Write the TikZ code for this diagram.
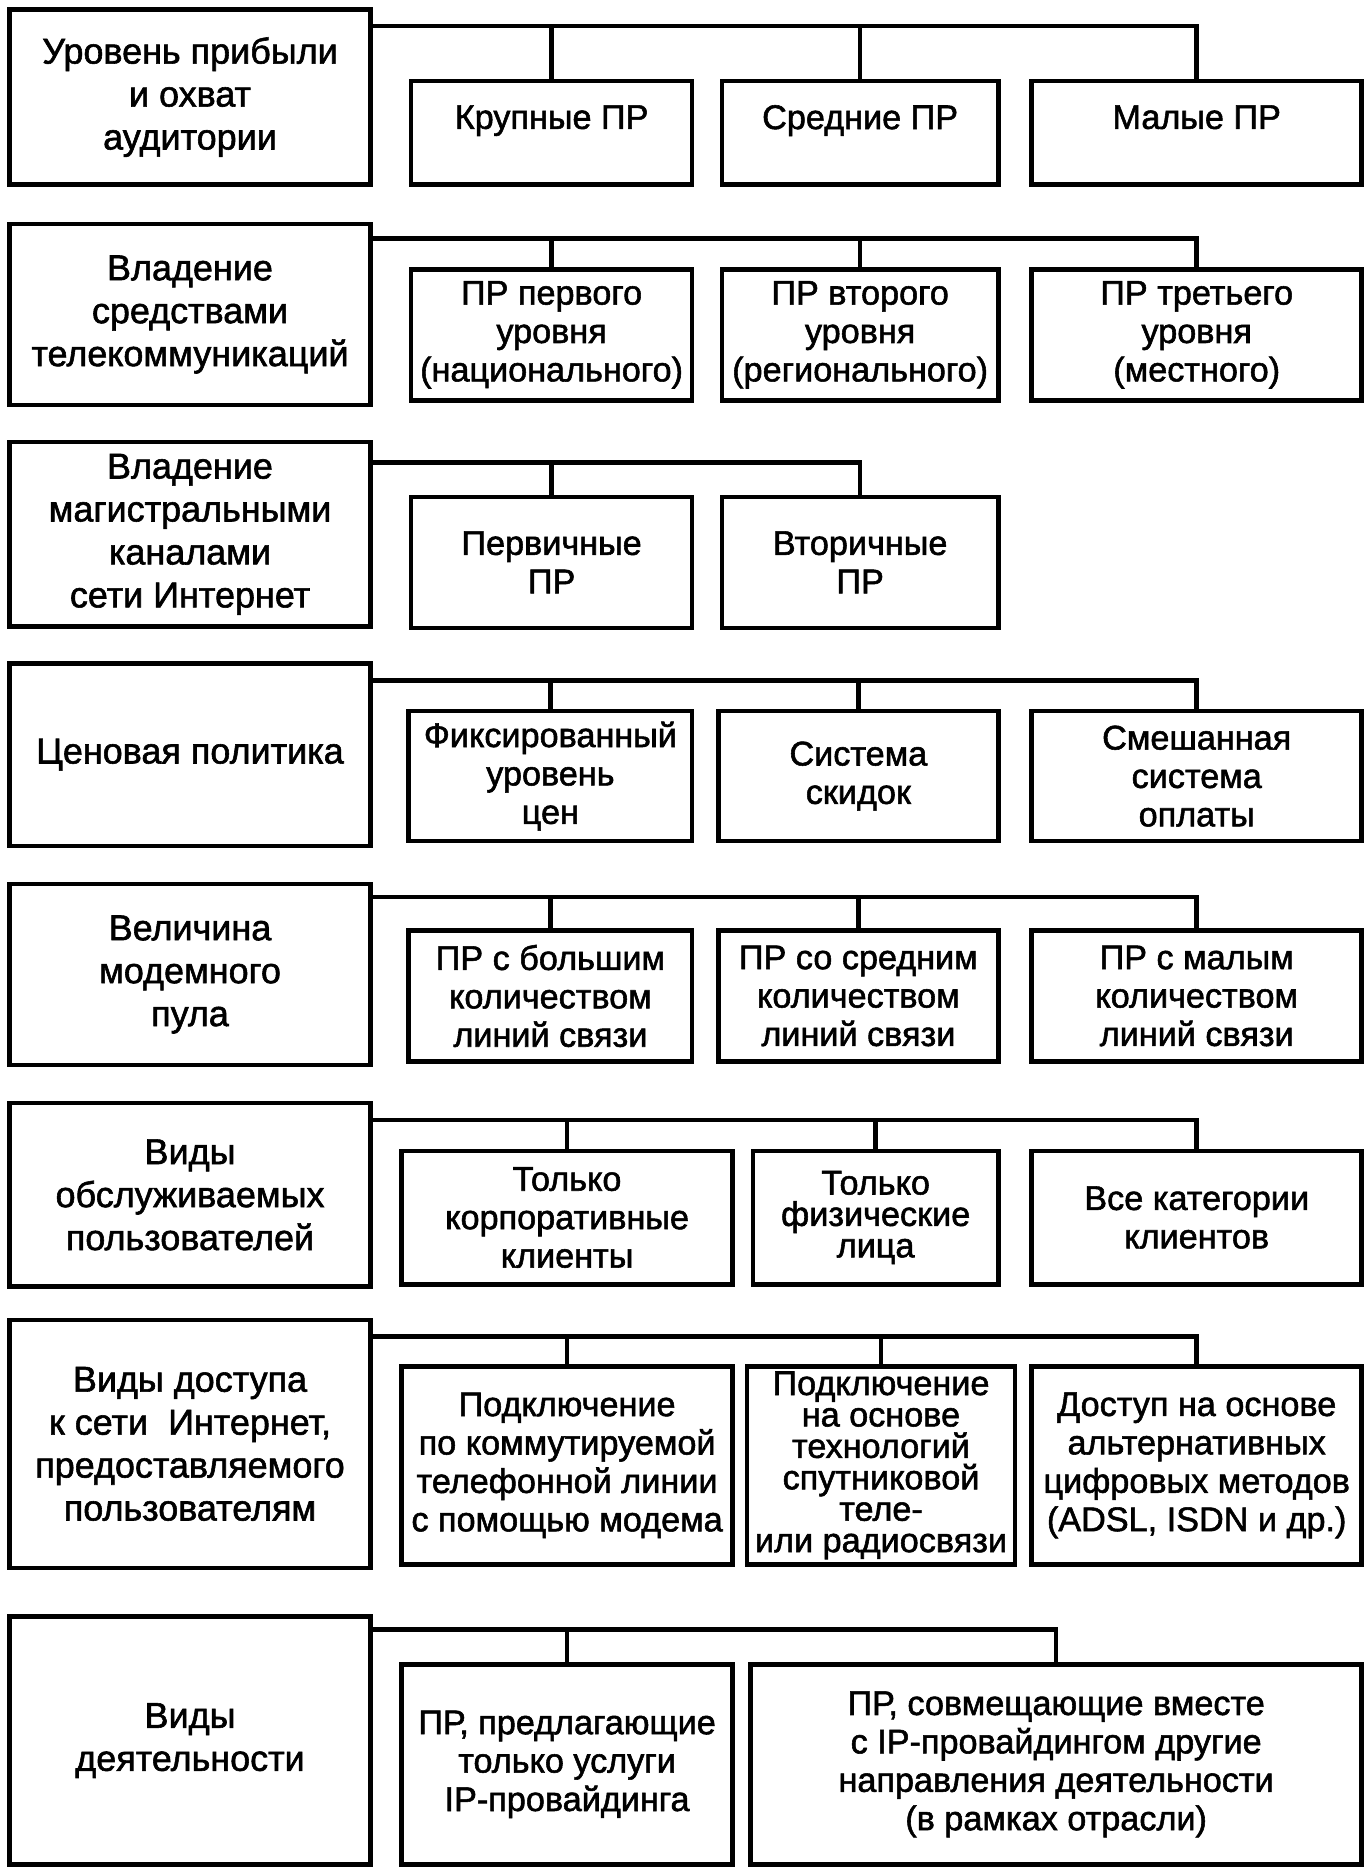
\documentclass[tikz,border=0pt]{standalone}
\usepackage{fontspec}
\setmainfont{Liberation Sans}
\newfontfamily\diagfont{Liberation Sans}[FakeBold=1.6]
\usetikzlibrary{fit}

\begin{document}
\begin{tikzpicture}[x=0.012cm,y=-0.012cm]
		\tikzstyle{crit_box}=[draw=black, line width=1.3pt, inner sep=0pt]
		\tikzstyle{kind_box}=[crit_box]
		\tikzstyle{crit_text}=[inner sep=0pt, align=center, font=\diagfont\fontsize{10.3}{12.3}\selectfont]
		\tikzstyle{kind_text}=[crit_text, font=\diagfont\fontsize{9.8}{11}\selectfont]
		\tikzstyle{tight_text}=[kind_text, font=\diagfont\fontsize{9.8}{9}\selectfont]
		\tikzstyle{bus_line}=[line width=1.3pt]

		\useasboundingbox (0,0) rectangle (1145,1568);

		\begin{scope}
			\node (C1) [crit_box, fit={(8,8) (311,155)}] {};
			\node (C1t) at (C1) [crit_text] {Уровень прибыли\\и охват\\аудитории};
			\node (K1a) [kind_box, fit={(345,68) (581,155)}] {};
			\node (K1at) at (K1a) [kind_text] {Крупные ПР\\[-2pt]\mbox{}};
			\node (K1b) [kind_box, fit={(606,68) (838,155)}] {};
			\node (K1bt) at (K1b) [kind_text] {Средние ПР\\[-2pt]\mbox{}};
			\node (K1c) [kind_box, fit={(866,68) (1143,155)}] {};
			\node (K1ct) at (K1c) [kind_text] {Малые ПР\\[-2pt]\mbox{}};
			\coordinate (B1) at (C1.east |- 0,22);
			\draw [bus_line] (B1) -| (K1c.north);
			\draw [bus_line] (K1a.north) -- (K1a.north |- B1);
			\draw [bus_line] (K1b.north) -- (K1b.north |- B1);
		\end{scope}

		\begin{scope}
			\node (C2) [crit_box, fit={(8,188) (311,340)}] {};
			\node (C2t) at (C2) [crit_text] {Владение\\средствами\\телекоммуникаций};
			\node (K2a) [kind_box, fit={(345,226) (581,336)}] {};
			\node (K2at) at (K2a) [kind_text] {ПР первого\\уровня\\(национального)};
			\node (K2b) [kind_box, fit={(606,226) (838,336)}] {};
			\node (K2bt) at (K2b) [kind_text] {ПР второго\\уровня\\(регионального)};
			\node (K2c) [kind_box, fit={(866,226) (1143,336)}] {};
			\node (K2ct) at (K2c) [kind_text] {ПР третьего\\уровня\\(местного)};
			\coordinate (B2) at (C2.east |- 0,200);
			\draw [bus_line] (B2) -| (K2c.north);
			\draw [bus_line] (K2a.north) -- (K2a.north |- B2);
			\draw [bus_line] (K2b.north) -- (K2b.north |- B2);
		\end{scope}

		\begin{scope}
			\node (C3) [crit_box, fit={(8,371) (311,526)}] {};
			\node (C3t) at (C3) [crit_text] {Владение\\магистральными\\каналами\\сети Интернет};
			\node (K3a) [kind_box, fit={(345,417) (581,527)}] {};
			\node (K3at) at (K3a) [kind_text] {Первичные\\ПР};
			\node (K3b) [kind_box, fit={(606,417) (838,527)}] {};
			\node (K3bt) at (K3b) [kind_text] {Вторичные\\ПР};
			\coordinate (B3) at (C3.east |- 0,388);
			\draw [bus_line] (B3) -| (K3b.north);
			\draw [bus_line] (K3a.north) -- (K3a.north |- B3);
		\end{scope}

		\begin{scope}
			\node (C4) [crit_box, fit={(8,557) (311,710)}] {};
			\node (C4t) at (C4) [crit_text] {Ценовая политика};
			\node (K4a) [kind_box, fit={(343,597) (581,706)}] {};
			\node (K4at) at (K4a) [kind_text] {Фиксированный\\уровень\\цен};
			\node (K4b) [kind_box, fit={(603,597) (838,706)}] {};
			\node (K4bt) at (K4b) [kind_text] {Система\\скидок};
			\node (K4c) [kind_box, fit={(866,597) (1143,706)}] {};
			\node (K4ct) at (K4c) [kind_text] {Смешанная\\система\\оплаты};
			\coordinate (B4) at (C4.east |- 0,571);
			\draw [bus_line] (B4) -| (K4c.north);
			\draw [bus_line] (K4a.north) -- (K4a.north |- B4);
			\draw [bus_line] (K4b.north) -- (K4b.north |- B4);
		\end{scope}

		\begin{scope}
			\node (C5) [crit_box, fit={(8,742) (311,894)}] {};
			\node (C5t) at (C5) [crit_text] {Величина\\модемного\\пула};
			\node (K5a) [kind_box, fit={(343,781) (581,891)}] {};
			\node (K5at) at (K5a) [kind_text] {ПР с большим\\количеством\\линий связи};
			\node (K5b) [kind_box, fit={(603,781) (838,891)}] {};
			\node (K5bt) at (K5b) [kind_text] {ПР со средним\\количеством\\линий связи};
			\node (K5c) [kind_box, fit={(866,781) (1143,891)}] {};
			\node (K5ct) at (K5c) [kind_text] {ПР с малым\\количеством\\линий связи};
			\coordinate (B5) at (C5.east |- 0,753);
			\draw [bus_line] (B5) -| (K5c.north);
			\draw [bus_line] (K5a.north) -- (K5a.north |- B5);
			\draw [bus_line] (K5b.north) -- (K5b.north |- B5);
		\end{scope}

		\begin{scope}
			\node (C6) [crit_box, fit={(8,926) (311,1080)}] {};
			\node (C6t) at (C6) [crit_text] {Виды\\обслуживаемых\\пользователей};
			\node (K6a) [kind_box, fit={(337,966) (615,1078)}] {};
			\node (K6at) at (K6a) [kind_text] {Только\\корпоративные\\клиенты};
			\node (K6b) [kind_box, fit={(632,966) (838,1078)}] {};
			\node (K6bt) at (K6b) [tight_text] {Только\\физические\\лица};
			\node (K6c) [kind_box, fit={(866,966) (1143,1078)}] {};
			\node (K6ct) at (K6c) [kind_text] {Все категории\\клиентов};
			\coordinate (B6) at (C6.east |- 0,940);
			\draw [bus_line] (B6) -| (K6c.north);
			\draw [bus_line] (K6a.north) -- (K6a.north |- B6);
			\draw [bus_line] (K6b.north) -- (K6b.north |- B6);
		\end{scope}

		\begin{scope}
			\node (C7) [crit_box, fit={(8,1108) (311,1316)}] {};
			\node (C7t) at (C7) [crit_text] {Виды доступа\\к сети~~Интернет,\\предоставляемого\\пользователям};
			\node (K7a) [kind_box, fit={(337,1147) (615,1313)}] {};
			\node (K7at) at (K7a) [kind_text] {Подключение\\по коммутируемой\\телефонной линии\\с помощью модема};
			\node (K7b) [kind_box, fit={(627,1147) (852,1313)}] {};
			\node (K7bt) at (K7b) [tight_text] {Подключение\\на основе\\технологий\\спутниковой\\теле-\\или радиосвязи};
			\node (K7c) [kind_box, fit={(866,1147) (1143,1313)}] {};
			\node (K7ct) at (K7c) [kind_text] {Доступ на основе\\альтернативных\\цифровых методов\\(ADSL, ISDN и др.)};
			\coordinate (B7) at (C7.east |- 0,1122);
			\draw [bus_line] (B7) -| (K7c.north);
			\draw [bus_line] (K7a.north) -- (K7a.north |- B7);
			\draw [bus_line] (K7b.north) -- (K7b.north |- B7);
		\end{scope}

		\begin{scope}
			\node (C8) [crit_box, fit={(8,1357) (311,1565)}] {};
			\node (C8t) at (C8) [crit_text] {Виды\\деятельности};
			\node (K8a) [kind_box, fit={(337,1397) (615,1565)}] {};
			\node (K8at) at (K8a) [kind_text] {ПР, предлагающие\\только услуги\\IP-провайдинга};
			\node (K8b) [kind_box, fit={(630,1397) (1143,1565)}] {};
			\node (K8bt) at (K8b) [kind_text] {ПР, совмещающие вместе\\с IP-провайдингом другие\\направления деятельности\\(в рамках отрасли)};
			\coordinate (B8) at (C8.east |- 0,1368);
			\draw [bus_line] (B8) -| (K8b.north);
			\draw [bus_line] (K8a.north) -- (K8a.north |- B8);
		\end{scope}

	\end{tikzpicture}
\end{document}
